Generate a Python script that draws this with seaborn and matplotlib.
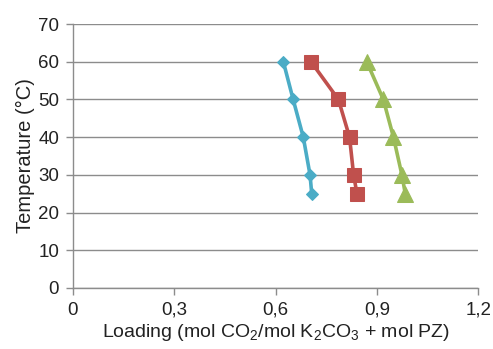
import matplotlib
matplotlib.use("Agg")
import matplotlib.pyplot as plt
import seaborn as sns
import pandas as pd
from matplotlib.ticker import FuncFormatter

temps = [60, 50, 40, 30, 25]
loading_blue = [0.623, 0.652, 0.682, 0.702, 0.707]
loading_red = [0.705, 0.786, 0.819, 0.831, 0.841]
loading_green = [0.870, 0.919, 0.949, 0.974, 0.984]
x_ticks = [0, 0.3, 0.6, 0.9, 1.2]
y_ticks = [0, 10, 20, 30, 40, 50, 60, 70]

sns.set_style("white")
plt.rcParams['font.family'] = ['Liberation Sans', 'DejaVu Sans']
plt.rcParams['mathtext.fontset'] = 'custom'
plt.rcParams['mathtext.rm'] = 'Liberation Sans'
plt.rcParams['mathtext.it'] = 'Liberation Sans'

fig = plt.figure(figsize=(4.93, 3.49), dpi=100)
ax = fig.add_axes([0.148, 0.175, 0.822, 0.756])

series = [
    (loading_blue, '#4BACC6', 'D', 6.5),
    (loading_red, '#C0504D', 's', 10.5),
    (loading_green, '#9BBB59', '^', 11),
]
for xs, col, mk, ms in series:
    df = pd.DataFrame({'x': xs, 'y': temps})
    sns.lineplot(data=df, x='x', y='y', sort=False, ax=ax, color=col,
                 marker=mk, markersize=ms, linewidth=2.6,
                 markeredgecolor=col, zorder=3)

ax.set_xlim(0, 1.2)
ax.set_ylim(0, 70)
ax.set_xticks(x_ticks)
ax.set_yticks(y_ticks)
ax.xaxis.set_major_formatter(FuncFormatter(lambda v, p: ('%g' % v).replace('.', ',')))
ax.yaxis.grid(True, color='#8c8c8c', linewidth=1)
ax.xaxis.grid(False)
for s in ['top', 'right']:
    ax.spines[s].set_visible(False)
for s in ['left', 'bottom']:
    ax.spines[s].set_color('#8c8c8c')
    ax.spines[s].set_linewidth(1)
ax.tick_params(axis='both', which='major', direction='out', length=5, width=1,
               color='#8c8c8c', labelsize=13.5, labelcolor='#222222', pad=5,
               left=True, bottom=True)
ax.set_xlabel(r'Loading (mol CO$_2$/mol K$_2$CO$_3$ + mol PZ)', fontsize=14, color='#222222', labelpad=2)
ax.set_ylabel('Temperature (°C)', fontsize=14.5, color='#222222', labelpad=2)

fig.savefig('out.png', dpi=100)
